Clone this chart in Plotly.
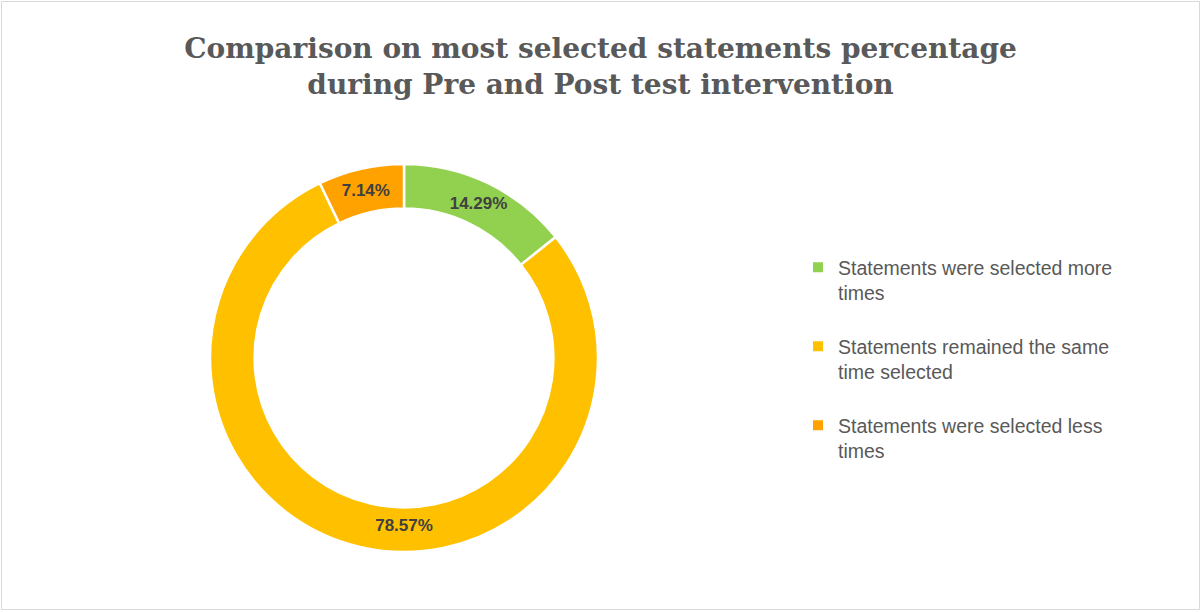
import plotly.graph_objects as go

labels = ["Statements were selected more<br>times<br> ",
          "Statements remained the same<br>time selected<br> ",
          "Statements were selected less<br>times<br> "]
values = [14.29, 78.57, 7.14]
colors = ["#92D050", "#FFC000", "#FFA200"]
title_lines = ["Comparison on most selected statements percentage",
               "during Pre and Post test intervention"]

W, H = 1201, 612

fig = go.Figure(go.Pie(
    labels=labels,
    values=values,
    hole=0.77,
    sort=False,
    direction="clockwise",
    rotation=0,
    marker=dict(colors=colors, line=dict(color="white", width=2.5)),
    textinfo="text",
    text=[f"{v:.2f}%" for v in values],
    textposition="inside",
    insidetextorientation="horizontal",
    textfont=dict(family="Liberation Sans", size=17, color="#404040", weight="bold"),
    domain=dict(x=[210 / W, 598 / W], y=[1 - 552 / H, 1 - 164 / H]),
    hoverinfo="percent",
))

fig.update_layout(
    width=W, height=H,
    margin=dict(l=0, r=0, t=0, b=0),
    paper_bgcolor="white",
    plot_bgcolor="white",
    uniformtext=dict(minsize=17, mode="show"),
    title=dict(
        text="<br>".join(title_lines),
        x=0.5, xanchor="center",
        y=1 - 58 / H, yanchor="top",
        font=dict(family="DejaVu Serif", size=28, color="#595959", weight="bold"),
    ),
    showlegend=True,
    legend=dict(
        x=798 / W, xanchor="left",
        y=1 - 248 / H, yanchor="top",
        valign="top",
        font=dict(family="Liberation Sans", size=19.5, color="#595959"),
        itemsizing="constant",
        bgcolor="rgba(0,0,0,0)",
    ),
    shapes=[dict(type="rect", xref="paper", yref="paper",
                 x0=1.5 / W, x1=1199.5 / W, y0=1 - 609.5 / H, y1=1 - 1.5 / H,
                 line=dict(color="#D9D9D9", width=1))],
)

fig.write_html("out.html", config={"displayModeBar": False},
               post_script="document.body.style.margin='0';")
